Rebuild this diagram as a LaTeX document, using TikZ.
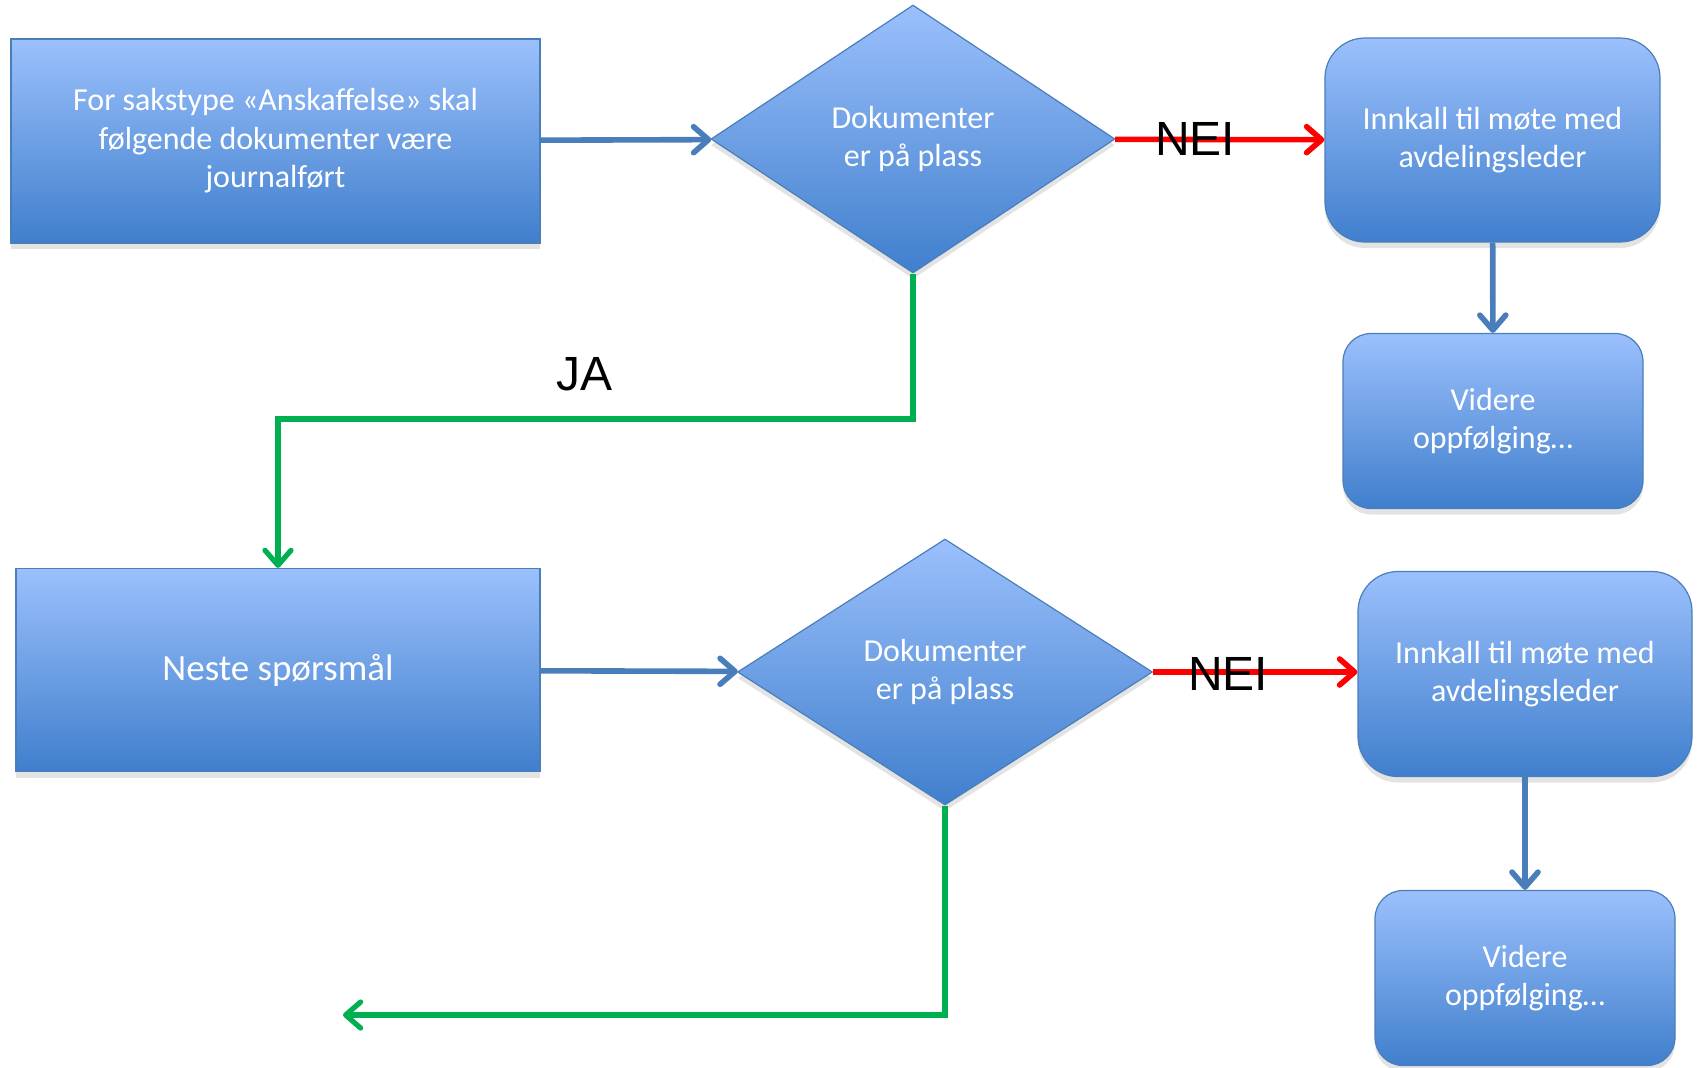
\documentclass[tikz,border=0pt]{standalone}
\usepackage{fontspec}
\setmainfont{Carlito}
\newfontfamily\answerfont{Liberation Sans}
\usetikzlibrary{arrows.meta,positioning,shapes.geometric,shadows}

\definecolor{boxtop}{HTML}{9BC0FC}
\definecolor{boxmid}{HTML}{87AEEE}
\definecolor{boxbottom}{HTML}{407FCD}
\definecolor{boxline}{HTML}{4A7EBB}
\definecolor{neired}{HTML}{FF0000}
\definecolor{jagreen}{HTML}{00B050}

\begin{document}
\begin{tikzpicture}[
  x=0.5pt, y=-0.5pt,
  flow/.style={draw=boxline, line width=0.6pt, top color=boxtop, middle color=boxmid, bottom color=boxbottom, text=white, align=center, font=\fontsize{16}{19.25}\selectfont, drop shadow={shadow xshift=0pt, shadow yshift=-3pt, opacity=0.22}},
  box/.style={flow, rectangle, inner sep=0pt},
  task/.style={flow, rectangle, rounded corners=20pt, inner sep=0pt},
  check/.style={flow, diamond, inner sep=0pt, minimum width=202pt, minimum height=134pt},
  link/.style={-{Straight Barb[length=7.5pt,width=13pt,round]}, line width=2.8pt, draw=boxline},
  nei/.style={link, draw=neired, line width=2.8pt},
  ja/.style={link, draw=jagreen, line width=2.6pt},
  answer/.style={font=\answerfont\fontsize{24}{28}\selectfont, inner sep=0pt}
]
  \useasboundingbox (0,0) rectangle (1699,1067);

  \node[box, minimum width=264.5pt, minimum height=102pt] (req) at (275.5,141) {For sakstype «Anskaffelse» skal\\følgende dokumenter være\\journalført};
  \node[check] (doc1) at (913,139) {Dokumenter\\er på plass};
  \node[task, minimum width=167.5pt, minimum height=102pt] (meet1) at (1492.5,140) {Innkall til møte med\\avdelingsleder};
  \node[task, rounded corners=14pt, minimum width=150pt, minimum height=87.5pt] (follow1) at (1493,421) {Videre\\oppfølging…};

  \node[box, minimum width=262pt, minimum height=101.5pt, font=\fontsize{18.5}{22}\selectfont] (next) at (278,670) {Neste spørsmål};
  \node[check, minimum width=207.5pt, minimum height=133pt] (doc2) at (945,672) {Dokumenter\\er på plass};
  \node[task, minimum width=167pt, minimum height=102.5pt] (meet2) at (1525,674) {Innkall til møte med\\avdelingsleder};
  \node[task, rounded corners=14pt, minimum width=150pt, minimum height=87.5pt] (follow2) at (1525,978) {Videre\\oppfølging…};

  \coordinate (jabend) at (913,419);
  \coordinate (nextstep) at (343,1015);

  \draw[link] (req) -- (doc1);
  \draw[nei] (doc1) -- (meet1);
  \draw[link] (meet1) -- (follow1);
  \draw[ja] (doc1.south) -- (jabend) -| (next.north);
  \draw[link] (next) -- (doc2);
  \draw[nei] (doc2.east) -- (doc2.east -| meet2.west);
  \draw[link] (meet2) -- (follow2);
  \draw[ja] (doc2.south) |- (nextstep);

  \node[answer] (nei1) at (1195,139) {NEI};
  \node[answer] (ja1) at (585,374) {JA};
  \node[answer] (nei2) at (1228,674) {NEI};
\end{tikzpicture}
\end{document}
